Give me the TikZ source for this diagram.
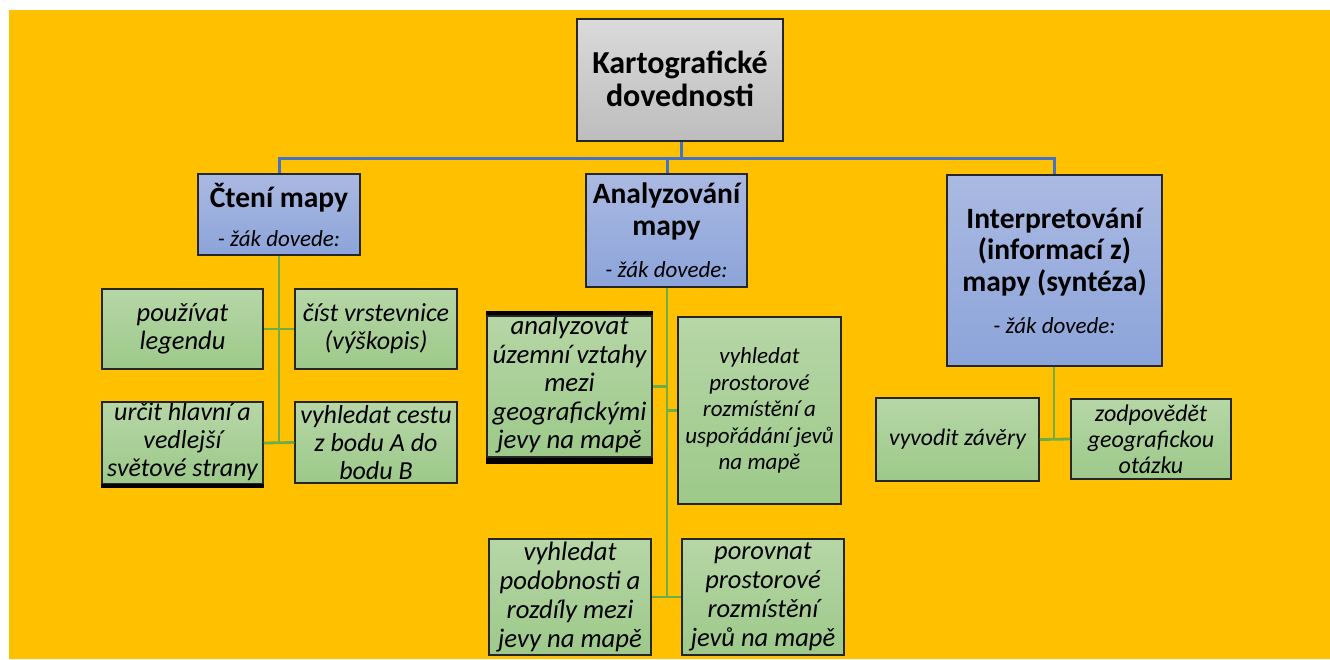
\documentclass[tikz,border=0pt]{standalone}
\usepackage{fontspec}
\setmainfont{Carlito}
\definecolor{bgyel}{HTML}{FFC000}
\definecolor{blueln}{HTML}{4472C4}
\definecolor{greenln}{HTML}{70AD47}
\definecolor{gtop}{HTML}{B6D6A6}
\definecolor{gbot}{HTML}{9DC98A}
\definecolor{btop}{HTML}{AAB9E1}
\definecolor{bbot}{HTML}{8CA4DA}
\definecolor{grtop}{HTML}{DADADA}
\definecolor{grbot}{HTML}{BDBDBD}
\newcommand{\topfont}{\bfseries\fontsize{32}{33}\selectfont}
\newcommand{\ttlfont}{\bfseries\fontsize{29.5}{31.5}\selectfont}
\newcommand{\subfont}{\mdseries\itshape\fontsize{23}{26}\selectfont}
\tikzset{
  boxbase/.style={draw=black!85, line width=1.5pt, align=center, inner sep=0pt, text=black},
  topbox/.style={boxbase, top color=grtop, bottom color=grbot, font=\topfont},
  bluebox/.style={boxbase, top color=btop, bottom color=bbot, font=\ttlfont},
  greenbox/.style 2 args={boxbase, top color=gtop, bottom color=gbot,
     font=\itshape\fontsize{#1}{#2}\selectfont},
  bline/.style={draw=blueln, line width=3pt},
  gline/.style={draw=greenln, line width=2.8pt},
  bar/.style={draw=black, line width=#1},
}
\begin{document}
\begin{tikzpicture}[x=1pt,y=-1pt]
\useasboundingbox (0,0) rectangle (1330,659);
\fill[white] (0,0) rectangle (1330,659);
\fill[bgyel] (9,10) rectangle (1330,659);

% blue connectors (drawn first, under boxes)
\node[topbox, minimum width=206, minimum height=122, text depth=0pt] (top) at (680,80)
  {\raisebox{2pt}{Kartografické}\\\raisebox{2pt}{dovednosti}};
\node[bluebox, minimum width=162, minimum height=81] (cteni) at (279,214.5)
  {Čtení mapy\\[7.5pt]{\subfont - žák dovede:}};
\node[bluebox, minimum width=161, minimum height=113] (analyz) at (666.5,230.5)
  {Analyzování\\mapy\\[11pt]{\subfont - žák dovede:}};
\node[bluebox, minimum width=215, minimum height=191] (interp) at (1054.5,270.5)
  {Interpretování\\(informací z)\\mapy (syntéza)\\[10.5pt]{\subfont - žák dovede:}};

\node[greenbox={26.5}{28}, minimum width=161, minimum height=80] (pouz) at (182.5,329)
  {používat\\legendu};
\node[greenbox={26}{28}, minimum width=162, minimum height=80] (cist) at (376,329)
  {číst vrstevnice\\(výškopis)};
\node[greenbox={26}{28}, minimum width=161, minimum height=82, path picture={
  \node[align=center, font=\itshape\fontsize{26}{28}\selectfont]
    at ([yshift=1pt]path picture bounding box.center)
    {určit hlavní a\\vedlejší\\světové strany};}] (urcit) at (182.5,443) {};
\node[greenbox={26}{28}, minimum width=162, minimum height=81] (cesta) at (376,442.5)
  {vyhledat cestu\\z bodu A do\\bodu B};

\node[greenbox={26.8}{28.5}, minimum width=165, minimum height=141, path picture={
  \node[align=center, font=\itshape\fontsize{26.8}{28.5}\selectfont]
    at ([yshift=2pt]path picture bounding box.center)
    {analyzovat\\územní vztahy\\mezi\\geografickými\\jevy na mapě};}] (analyzovat) at (569.5,386.5) {};
\node[greenbox={23}{26.5}, minimum width=163, minimum height=187] (vyhprost) at (759.5,410.5)
  {vyhledat\\prostorové\\rozmístění a\\uspořádání jevů\\na mapě};
\node[greenbox={26.7}{29}, minimum width=162, minimum height=116] (podob) at (570,597)
  {vyhledat\\podobnosti a\\rozdíly mezi\\jevy na mapě};
\node[greenbox={26.5}{29}, minimum width=162, minimum height=116] (porov) at (763,597)
  {porovnat\\prostorové\\rozmístění\\jevů na mapě};

\node[greenbox={23.7}{26}, minimum width=163, minimum height=83] (zaver) at (957.5,439.5)
  {vyvodit závěry};
\node[greenbox={24}{26}, minimum width=160, minimum height=80] (zodp) at (1151,439)
  {zodpovědět\\geografickou\\otázku};

% thick black bars (rendering artefacts of the original)
\draw[bar=4.5pt] ([yshift=2.2pt]analyzovat.north west) -- ([yshift=2.2pt]analyzovat.north east);
\draw[bar=6pt] ([yshift=-3pt]analyzovat.south west) -- ([yshift=-3pt]analyzovat.south east);
\draw[bar=3.5pt] ([yshift=-1pt]urcit.south west) -- ([yshift=-1pt]urcit.south east);

% blue connectors
\coordinate (bus) at (681,158);
\draw[bline] ([xshift=1pt]top.south) -- ([xshift=1pt]top.south |- bus);
\draw[bline] (cteni.north) -- (cteni.north |- bus) -- ([xshift=-0.5pt]interp.north |- bus) -- ([xshift=-0.5pt]interp.north);
\draw[bline] ([xshift=0.5pt]analyz.north) -- ([xshift=0.5pt]analyz.north |- bus);

% green connectors
\draw[gline] (cteni.south) -- (cteni.south |- urcit.east);
\draw[gline] (pouz.east) -- (cist.west);
\draw[gline] (urcit.east) -- (cesta.west);

\draw[gline] ([xshift=0.5pt]analyz.south) -- ([xshift=0.5pt]analyz.south |- podob.east);
\draw[gline] (analyzovat.east) -- ([xshift=0.5pt]analyzovat.east -| analyz.south);
\draw[gline] (vyhprost.west) -- ([xshift=0.5pt]vyhprost.west -| analyz.south);
\draw[gline] (podob.east) -- (porov.west);

\draw[gline] ([xshift=-0.5pt]interp.south) -- ([xshift=-0.5pt]interp.south |- zaver.east);
\draw[gline] (zaver.east) -- (zodp.west);
\end{tikzpicture}
\end{document}
